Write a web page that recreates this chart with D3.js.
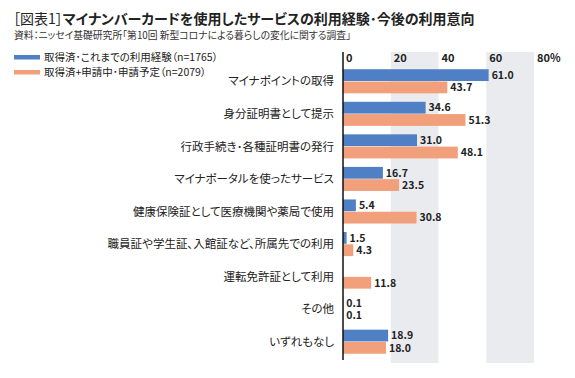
<!DOCTYPE html>
<html>
<head>
<meta charset="utf-8">
<script src="https://cdn.jsdelivr.net/npm/d3@7"></script>
<style>
  body { margin: 0; background: #fff; }
  svg text { font-family: "Noto Sans CJK JP", "Noto Sans", sans-serif; font-feature-settings: "palt"; }
</style>
</head>
<body>
<div id="chart"></div>
<script>
const categories = [
  "マイナポイントの取得",
  "身分証明書として提示",
  "行政手続き･各種証明書の発行",
  "マイナポータルを使ったサービス",
  "健康保険証として医療機関や薬局で使用",
  "職員証や学生証、入館証など、所属先での利用",
  "運転免許証として利用",
  "その他",
  "いずれもなし"
];
const seriesNames = ["取得済･これまでの利用経験（n=1765）", "取得済+申請中･申請予定（n=2079）"];
const usedValues = [61.0, 34.6, 31.0, 16.7, 5.4, 1.5, null, 0.1, 18.9];
const plannedValues = [43.7, 51.3, 48.1, 23.5, 30.8, 4.3, 11.8, 0.1, 18.0];
const tickValues = [0, 20, 40, 60, 80];
const colors = ["#4f7fc4", "#f2a07c"];

const W = 575, H = 378;
const svg = d3.select("#chart").append("svg")
  .attr("width", W).attr("height", H);

// title
const title = svg.append("text")
  .attr("x", 13).attr("y", 24)
  .attr("font-size", "14px")
  .attr("fill", "#222");
title.append("tspan").attr("font-weight", "normal").text("［図表1］");
title.append("tspan").attr("font-weight", "bold")
  .text("マイナンバーカードを使用したサービスの利用経験･今後の利用意向");

svg.append("text")
  .attr("x", 14).attr("y", 39)
  .attr("font-size", "9.8px")
  .attr("fill", "#333")
  .text("資料：ニッセイ基礎研究所「第10回 新型コロナによる暮らしの変化に関する調査」");

// scales
const x = d3.scaleLinear().domain([0, 80]).range([343, 534]);
const y = d3.scaleBand().domain(categories).range([65, 358]).paddingInner(0.26).paddingOuter(0.13);
const ySub = d3.scaleBand().domain([0, 1]).range([0, y.bandwidth()]).paddingInner(0.04);

// background bands 20-40 and 60-80
const bands = [[20, 40], [60, 80]];
svg.selectAll(".band")
  .data(bands)
  .join("rect")
  .attr("class", "band")
  .attr("x", d => x(d[0]))
  .attr("width", d => x(d[1]) - x(d[0]))
  .attr("y", 52)
  .attr("height", 311)
  .attr("fill", "#e9ebef");

// tick labels
svg.selectAll(".tick-label")
  .data(tickValues)
  .join("text")
  .attr("class", "tick-label")
  .attr("x", d => x(d) + 3)
  .attr("y", 62)
  .attr("font-size", "11px")
  .attr("font-weight", "bold")
  .attr("fill", "#222")
  .text(d => d === 80 ? d + "%" : d);

// legend
const legend = svg.append("g");
seriesNames.forEach((name, i) => {
  legend.append("rect")
    .attr("x", 14).attr("y", 55 + i * 15)
    .attr("width", 26).attr("height", 4.5)
    .attr("fill", colors[i]);
  legend.append("text")
    .attr("x", 44).attr("y", 61 + i * 15)
    .attr("font-size", "10.5px")
    .attr("fill", "#222")
    .text(name);
});

// category labels
svg.selectAll(".cat-label")
  .data(categories)
  .join("text")
  .attr("class", "cat-label")
  .attr("x", 334)
  .attr("y", d => y(d) + y.bandwidth() / 2)
  .attr("dy", "0.36em")
  .attr("text-anchor", "end")
  .attr("font-size", "11.5px")
  .attr("fill", "#222")
  .text(d => d);

// bars
const rows = [];
categories.forEach((c, i) => {
  [usedValues[i], plannedValues[i]].forEach((v, s) => {
    if (v !== null) rows.push({cat: c, s, v});
  });
});

svg.selectAll(".bar")
  .data(rows)
  .join("rect")
  .attr("class", "bar")
  .attr("x", x(0))
  .attr("y", d => y(d.cat) + ySub(d.s))
  .attr("width", d => x(d.v) - x(0))
  .attr("height", ySub.bandwidth())
  .attr("fill", d => colors[d.s]);

svg.selectAll(".val")
  .data(rows)
  .join("text")
  .attr("class", "val")
  .attr("x", d => x(d.v) + 3)
  .attr("y", d => y(d.cat) + ySub(d.s) + ySub.bandwidth() / 2)
  .attr("dy", "0.36em")
  .attr("font-size", "10.5px")
  .attr("font-weight", "bold")
  .attr("fill", "#222")
  .text(d => d.v.toFixed(1));

// axis line
svg.append("line")
  .attr("x1", x(0)).attr("x2", x(0))
  .attr("y1", 52).attr("y2", 360)
  .attr("stroke", "#111")
  .attr("stroke-width", 1.5);
</script>
</body>
</html>
